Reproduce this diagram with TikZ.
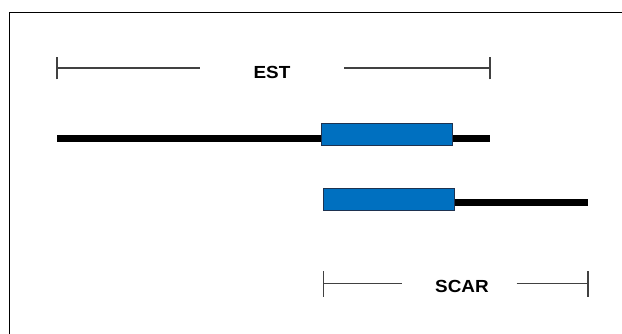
\documentclass[tikz,border=0pt]{standalone}
\usepackage{fontspec}
\setmainfont{Liberation Sans}
\usepackage{tikz}
\usetikzlibrary{positioning}

\definecolor{exonblue}{RGB}{0,112,192}
\definecolor{exonedge}{RGB}{30,50,80}
\definecolor{dimgray}{RGB}{65,65,65}

\tikzset{
    exon/.style={draw=exonedge, line width=0.9pt, fill=exonblue, anchor=west,
        inner sep=0pt, minimum height=22pt},
    intron/.style={line width=7.5pt},
    dimline/.style={draw=dimgray, line width=1.5pt},
    dimlabel/.style={font=\fontsize{17.5}{18}\selectfont\bfseries, xscale=1.08,
        inner sep=0pt},
}

\begin{document}
\begin{tikzpicture}[x=1pt, y=-1pt]
            \useasboundingbox (0, 0) rectangle (622, 333);
            \fill[white] (0, 0) rectangle (622, 333);
            % frame
            \draw[line width=1.8pt] (9.5, 345) |- (640, 12.5);

            % EST dimension
            \coordinate (estl) at (57, 68);
            \coordinate (estr) at (490, 68);
            \node[dimlabel] (est) at (272, 72.5) {EST};
            \coordinate (estgl) at (200, 68);
            \coordinate (estgr) at (344, 68);
            \draw[dimline] ([yshift=-11.25pt]estl) -- ([yshift=11.25pt]estl);
            \draw[dimline] ([yshift=-11.25pt]estr) -- ([yshift=11.25pt]estr);
            \draw[dimline] (estl) -- (estgl);
            \draw[dimline] (estgr) -- (estr);

            % EST transcript
            \coordinate (tonel) at (57, 138.3);
            \coordinate (toner) at (490, 138.3);
            \draw[intron] (tonel) -- (toner);
            \node[exon, minimum width=130.7pt] (exone) at (321, 134.5) {};

            % SCAR transcript
            \coordinate (ttwor) at (588, 202.3);
            \node[exon, minimum width=131.3pt] (exttwo) at (322.7, 199.8) {};
            \draw[intron] (exttwo.east |- ttwor) -- (ttwor);

            % SCAR dimension
            \coordinate (scarl) at (323.3, 283.5);
            \coordinate (scarr) at (588, 283.5);
            \node[dimlabel] (scar) at (462, 286.5) {SCAR};
            \coordinate (scargl) at (401.7, 283.5);
            \coordinate (scargr) at (516.7, 283.5);
            \draw[dimline] ([yshift=-13pt]scarl) -- ([yshift=13pt]scarl);
            \draw[dimline] ([yshift=-13pt]scarr) -- ([yshift=13pt]scarr);
            \draw[dimline] (scarl) -- (scargl);
            \draw[dimline] (scargr) -- (scarr);
        \end{tikzpicture}
\end{document}
